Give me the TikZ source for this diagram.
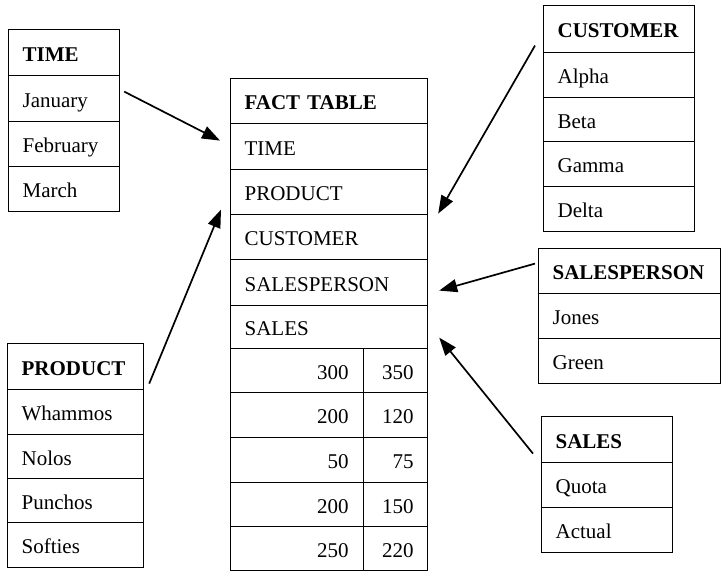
\documentclass[tikz,border=0pt]{standalone}
\usepackage{fontspec}
\setmainfont{Liberation Serif}
\usetikzlibrary{arrows.meta}
\tikzset{
  cell/.style={draw, line width=1.2pt, anchor=north west, inner xsep=14pt, inner ysep=0pt,
    text height=1.7em, text depth=0pt, align=left, font=\fontsize{21}{25}\selectfont},
  ncell/.style={cell, align=right},
  arr/.style={line width=1.7pt, -{Triangle[length=18pt,width=13pt]}}
}
\begin{document}
\begin{tikzpicture}[x=1pt,y=-1pt]
\useasboundingbox (0,0) rectangle (723,573);
% TIME
\node[cell, minimum width=111, minimum height=46, text width=83] (t0) at (8,29) {\mbox{\textbf{TIME}}};
\node[cell, minimum width=111, minimum height=46, text width=83] (t1) at (8,75) {\mbox{January}};
\node[cell, minimum width=111, minimum height=45, text width=83] (t2) at (8,121) {\mbox{February}};
\node[cell, minimum width=111, minimum height=45, text width=83] (t3) at (8,166) {\mbox{March}};
% PRODUCT
\node[cell, minimum width=136, minimum height=46, text width=108] (p0) at (7,343) {\mbox{\textbf{PRODUCT}}};
\node[cell, minimum width=136, minimum height=45, text width=108] (p1) at (7,389) {\mbox{Whammos}};
\node[cell, minimum width=136, minimum height=44, text width=108] (p2) at (7,434) {\mbox{Nolos}};
\node[cell, minimum width=136, minimum height=44, text width=108] (p3) at (7,478) {\mbox{Punchos}};
\node[cell, minimum width=136, minimum height=45, text width=108] (p4) at (7,522) {\mbox{Softies}};
% FACT TABLE
\node[cell, minimum width=197, minimum height=45, text width=169] (f0) at (230,78) {\mbox{\textbf{FACT TABLE}}};
\node[cell, minimum width=197, minimum height=46, text width=169] (f1) at (230,123) {\mbox{TIME}};
\node[cell, minimum width=197, minimum height=45, text width=169] (f2) at (230,169) {\mbox{PRODUCT}};
\node[cell, minimum width=197, minimum height=45, text width=169] (f3) at (230,214) {\mbox{CUSTOMER}};
\node[cell, minimum width=197, minimum height=46, text width=169] (f4) at (230,259) {\mbox{SALESPERSON}};
\node[cell, minimum width=197, minimum height=43, text width=169] (f5) at (230,305) {\mbox{SALES}};
\node[ncell, minimum width=133, minimum height=44, text width=103, inner xsep=15pt] (n1a) at (230,348) {300};
\node[ncell, minimum width=64, minimum height=44, text width=36] (n1b) at (363,348) {350};
\node[ncell, minimum width=133, minimum height=45, text width=103, inner xsep=15pt] (n2a) at (230,392) {200};
\node[ncell, minimum width=64, minimum height=45, text width=36] (n2b) at (363,392) {120};
\node[ncell, minimum width=133, minimum height=45, text width=103, inner xsep=15pt] (n3a) at (230,437) {50};
\node[ncell, minimum width=64, minimum height=45, text width=36] (n3b) at (363,437) {75};
\node[ncell, minimum width=133, minimum height=44, text width=103, inner xsep=15pt] (n4a) at (230,482) {200};
\node[ncell, minimum width=64, minimum height=44, text width=36] (n4b) at (363,482) {150};
\node[ncell, minimum width=133, minimum height=44, text width=103, inner xsep=15pt] (n5a) at (230,526) {250};
\node[ncell, minimum width=64, minimum height=44, text width=36] (n5b) at (363,526) {220};
% CUSTOMER
\node[cell, minimum width=151, minimum height=47, text width=123] (c0) at (543,5) {\mbox{\textbf{CUSTOMER}}};
\node[cell, minimum width=151, minimum height=45, text width=123] (c1) at (543,52) {\mbox{Alpha}};
\node[cell, minimum width=151, minimum height=44, text width=123] (c2) at (543,97) {\mbox{Beta}};
\node[cell, minimum width=151, minimum height=45, text width=123] (c3) at (543,141) {\mbox{Gamma}};
\node[cell, minimum width=151, minimum height=45, text width=123] (c4) at (543,186) {\mbox{Delta}};
% SALESPERSON
\node[cell, minimum width=182, minimum height=45, text width=154] (s0) at (538,248) {\mbox{\textbf{SALESPERSON}}};
\node[cell, minimum width=182, minimum height=45, text width=154] (s1) at (538,293) {\mbox{Jones}};
\node[cell, minimum width=182, minimum height=45, text width=154] (s2) at (538,338) {\mbox{Green}};
% SALES
\node[cell, minimum width=131, minimum height=46, text width=103] (q0) at (541,416) {\mbox{\textbf{SALES}}};
\node[cell, minimum width=131, minimum height=45, text width=103] (q1) at (541,462) {\mbox{Quota}};
\node[cell, minimum width=131, minimum height=45, text width=103] (q2) at (541,507) {\mbox{Actual}};
% arrows
\draw[arr] ([shift={(4,-7)}]t1.east) -- ([shift={(-10,-6)}]f1.west);
\draw[arr] ([shift={(5,17)}]p0.east) -- ([shift={(-9,17.5)}]f2.west);
\draw[arr] ([shift={(-8,16.5)}]c0.west) -- ([shift={(10,21.5)}]f2.east);
\draw[arr] ([shift={(-3,-7.5)}]s0.west) -- ([shift={(11,8)}]f4.east);
\draw[arr] ([shift={(-8,14)}]q0.west) -- ([shift={(11,10.5)}]f5.east);
\end{tikzpicture}
\end{document}
